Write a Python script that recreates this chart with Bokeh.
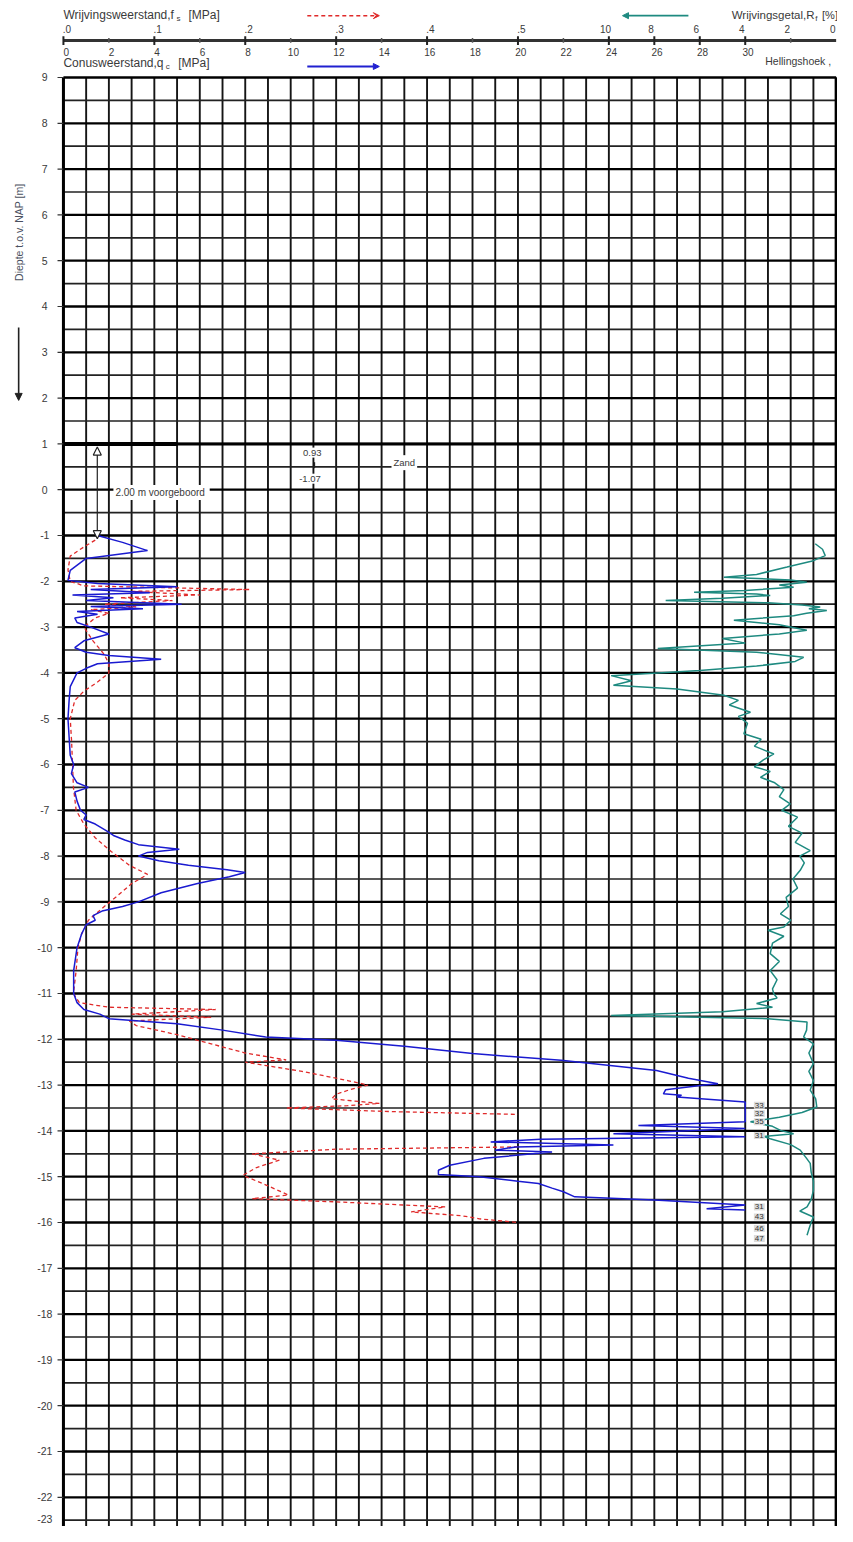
import numpy as np
from bokeh.plotting import figure
from bokeh.models import Range1d, Arrow, NormalHead, VeeHead
from bokeh.core.properties import value
from bokeh.embed import file_html
from bokeh.resources import INLINE

# ---------------- data ----------------
qc_depth = [-1.0, -1.15, -1.33, -1.5, -1.76, -1.98, -2.05, -2.12, -2.18, -2.25, -2.3, -2.36, -2.42,
            -2.5, -2.55, -2.6, -2.66, -2.72, -2.8, -2.9, -3.0, -3.15, -3.3, -3.45, -3.55, -3.62,
            -3.7, -3.8, -3.9, -4.0, -4.3, -4.6, -5.0, -5.4, -5.8, -6.0, -6.2, -6.4, -6.5, -6.6,
            -6.8, -7.0, -7.1, -7.2, -7.3, -7.45, -7.55, -7.65, -7.75, -7.85, -7.92, -8.0, -8.1,
            -8.2, -8.3, -8.36, -8.45, -8.6, -8.8, -9.0, -9.1, -9.2, -9.3, -9.4, -9.5, -9.7,
            -10.0, -10.5, -11.0, -11.2, -11.35, -11.45, -11.55, -11.66, -11.8, -11.95, -12.02,
            -12.15, -12.31, -12.46, -12.68, -12.85, -12.97, -13.0, -13.1, -13.19, -13.22, -13.26,
            -13.37, -13.6, -13.8, -13.88, -13.95, -14.06, -14.13, -14.18, -14.24, -14.31, -14.35,
            -14.42, -14.46, -14.6, -14.75, -14.86, -14.95, -15.0, -15.1, -15.15, -15.25, -15.33,
            -15.44, -15.51, -15.62, -15.7, -15.73]
qc_value = [1.5, 2.6, 3.7, 1.0, 0.3, 0.2, 1.5, 5.0, 1.2, 3.8, 0.4, 2.2, 1.0,
            5.2, 1.2, 3.5, 0.6, 1.5, 0.5, 0.6, 1.2, 2.0, 0.9, 0.5, 1.0, 2.0,
            4.3, 1.5, 1.0, 0.6, 0.3, 0.25, 0.2, 0.25, 0.3, 0.45, 0.35, 0.6, 1.1, 0.5,
            0.6, 0.75, 1.0, 0.9, 1.4, 1.9, 2.2, 2.7, 3.3, 5.1, 3.7, 3.3, 4.2,
            5.5, 7.2, 8.0, 7.3, 5.9, 4.3, 3.3, 2.6, 1.7, 1.3, 1.4, 1.0, 0.8,
            0.6, 0.45, 0.45, 0.6, 0.9, 1.6, 2.0, 5.0, 7.0, 8.9, 12.0,
            15.0, 18.0, 21.9, 26.1, 27.5, 28.8, 28.2, 26.5, 26.4, 27.2, 27.0,
            33.0, 32.0, 35.0, 25.3, 31.0, 24.2, 31.0, 21.0, 18.8, 24.2, 19.9,
            19.0, 21.5, 18.5, 17.0, 16.5, 16.5, 18.3, 20.0, 20.9, 21.5, 22.0,
            22.5, 26.0, 31.0, 28.3, 43.0]

fs_depth = [-1.1, -1.25, -1.45, -1.75, -2.0, -2.1, -2.18, -2.22, -2.3, -2.36, -2.42, -2.5, -2.56,
            -2.62, -2.7, -2.8, -3.0, -3.3, -3.6, -3.8, -4.0, -4.2, -4.4, -4.6, -5.0, -5.5, -6.0,
            -6.5, -7.0, -7.3, -7.6, -7.9, -8.2, -8.4, -8.6, -8.9, -9.1, -9.4, -9.7, -10.0, -10.5,
            -11.0, -11.2, -11.3, -11.35, -11.45, -11.52, -11.6, -11.7, -11.9, -12.1, -12.3,
            -12.45, -12.5, -12.7, -12.9, -13.0, -13.1, -13.2, -13.3, -13.4, -13.45, -13.5,
            -13.58, -13.64, float("nan"), -14.35, -14.4, -14.5, -14.64, -14.8, -14.97, -15.2,
            -15.4, -15.48, -15.55, -15.66, -15.77, -15.85, -15.92, -16.0]
fs_value = [0.035, 0.0225, 0.0075, 0.005, 0.0075, 0.0225, 0.205, 0.075, 0.15, 0.0625, 0.12, 0.045, 0.08,
            0.03, 0.05, 0.035, 0.0225, 0.0325, 0.045, 0.05, 0.05, 0.0375, 0.0225, 0.0125, 0.0075, 0.009, 0.01,
            0.011, 0.014, 0.0225, 0.035, 0.0525, 0.0725, 0.0925, 0.075, 0.0575, 0.045, 0.0275, 0.02, 0.016, 0.014,
            0.011, 0.0175, 0.05, 0.1675, 0.075, 0.1625, 0.0725, 0.08, 0.125, 0.1625, 0.2,
            0.245, 0.2, 0.2625, 0.3125, 0.335, 0.315, 0.3, 0.295, 0.3475, 0.3125, 0.245,
            0.3625, 0.5, float("nan"), 0.5, 0.3, 0.2075, 0.2375, 0.2125, 0.1975, 0.225,
            0.2475, 0.2075, 0.3, 0.42, 0.3825, 0.4375, 0.4575, 0.5]

rf_depth = [-1.18, -1.3, -1.44, -1.55, -1.69, -1.85, -1.91, -1.97, -2.02, -2.08, -2.13, -2.2, -2.24,
            -2.28, -2.31, -2.37, -2.42, -2.47, -2.52, -2.56, -2.6, -2.64, -2.7, -2.75, -2.85, -2.95,
            -3.07, -3.15, -3.25, -3.35, -3.47, -3.55, -3.66, -3.75, -3.85, -3.95, -4.06, -4.17,
            -4.27, -4.35, -4.49, -4.6, -4.7, -4.86, -4.95, -5.1, -5.33, -5.45, -5.6, -5.77, -5.9,
            -6.05, -6.15, -6.28, -6.4, -6.55, -6.7, -6.86, -7.0, -7.15, -7.35, -7.5, -7.7, -7.88,
            -8.0, -8.15, -8.31, -8.5, -8.7, -8.9, -9.1, -9.26, -9.4, -9.55, -9.62, -9.75, -9.9,
            -10.13, -10.3, -10.5, -10.7, -10.9, -11.0, -11.1, -11.22, -11.3, -11.4, -11.48, -11.55,
            -11.62, -11.8, -11.95, -12.1, -12.3, -12.53, -12.7, -12.9, -13.11, -13.3, -13.48,
            -13.6, -13.7, -13.8, -13.9, -13.99, -14.06, -14.12, -14.17, -14.3, -14.42, -14.6,
            -14.71, -14.9, -15.1, -15.3, -15.5, -15.66, -15.75, -15.88, -16.0, -16.15, -16.28]
rf_value = [0.92, 0.6, 0.48, 1.0, 2.16, 3.5, 4.94, 2.0, 1.29, 2.5, 1.87, 4.0, 6.25,
            3.5, 2.9, 5.0, 7.5, 3.0, 1.5, 0.7, 1.2, 0.41, 1.3, 1.87, 4.5, 2.5,
            1.29, 2.5, 5.0, 4.0, 7.85, 3.5, 1.43, 1.8, 3.5, 6.0, 9.9, 9.0,
            9.8, 7.0, 4.94, 4.3, 4.7, 3.77, 4.3, 3.9, 4.06, 3.3, 3.6, 2.74, 3.2,
            3.6, 2.9, 3.33, 2.7, 2.3, 2.5, 2.02, 2.4, 1.7, 2.1, 1.5, 1.8, 1.14,
            1.6, 1.4, 1.58, 1.9, 1.7, 2.2, 2.1, 2.45, 2.0, 2.3, 3.0, 2.3, 2.8,
            2.9, 2.5, 2.9, 2.6, 2.8, 2.75, 2.6, 3.5, 2.8, 5.0, 9.9, 3.0,
            1.28, 1.3, 1.43, 1.0, 1.2, 1.0, 1.2, 1.0, 1.14, 0.9, 0.85,
            1.5, 2.5, 3.77, 2.8, 2.45, 1.87, 3.2, 2.9, 2.0, 1.58, 1.3,
            1.14, 1.1, 1.0, 1.0, 1.1, 1.28, 1.6, 1.0, 1.1, 1.2, 1.28]

over_depth = [-13.44, -13.62, -13.8, -14.1, -15.66, -15.88, -16.13, -16.35]
over_label = ["33", "32", "35", "31", "31", "43", "46", "47"]

depth_ticks = list(range(9, -24, -1))
qc_ticks = list(range(0, 31, 2))
fs_ticks = [0.0, 0.1, 0.2, 0.3, 0.4, 0.5]
fs_tick_labels = [".0", ".1", ".2", ".3", ".4", ".5"]
rf_ticks = [10, 8, 6, 4, 2, 0]

# ---------------- scales of the sheet ----------------
QC_CAP = 30.0      # qc plotted up to 30 MPa
FS_FACTOR = 40.0   # 0.1 MPa fs == 4 MPa qc
RF_ZERO = 34.0     # Rf axis runs right to left, 0 at the right edge
X_MAX = 34.0

W, H = 837, 1526
Y_END = 10.681
Y_START = Y_END - H / 45.8

TEXT = "#3a3a3a"
FONT = value("Liberation Sans")

p = figure(width=W, height=H, x_range=Range1d(-2.769, 34.06), y_range=Range1d(Y_START, Y_END),
           output_backend="svg", toolbar_location=None, x_axis_location=None, y_axis_location=None,
           min_border=0, outline_line_color=None)
p.grid.visible = False

# ---------------- grid ----------------
vx = np.arange(0, X_MAX + 0.5, 1.0)
p.segment(x0=vx, y0=9.0, x1=vx, y1=-23.0, line_color="#151515", line_width=1.9)
hy_half = np.arange(8.5, -23.0, -1.0)
p.segment(x0=0, y0=hy_half, x1=X_MAX, y1=hy_half, line_color="#222222", line_width=1.7)
hy_int = np.array(depth_ticks, dtype=float)
p.segment(x0=0, y0=hy_int, x1=X_MAX, y1=hy_int, line_color="#000000", line_width=2.3)
p.segment(x0=[0, X_MAX], y0=9.0, x1=[0, X_MAX], y1=-23.0, line_color="#000000", line_width=3)
p.segment(x0=0, y0=1.0, x1=X_MAX, y1=1.0, line_color="#000000", line_width=3)
p.segment(x0=0, y0=1.0, x1=5.0, y1=1.0, line_color="#000000", line_width=4)

# left depth axis
p.segment(x0=-0.26, y0=hy_int, x1=0, y1=hy_int, line_color="#333333", line_width=1.2)
vis = [d for d in depth_ticks if d >= Y_START + 0.15]
p.text(x=-0.82, y=vis, text=[str(d) for d in vis], text_font=FONT, text_font_size="10.5px",
       text_color=TEXT, text_align="center", text_baseline="middle")
last = [d for d in depth_ticks if d < Y_START + 0.15]
p.text(x=-0.82, y=Y_START + 0.07, text=[str(d) for d in last], text_font=FONT, text_font_size="10.5px",
       text_color=TEXT, text_align="center", text_baseline="bottom")
p.text(x=[-1.97], y=[5.62], text=["Diepte t.o.v. NAP [m]"], angle=np.pi / 2, text_font=FONT,
       text_font_size="10.5px", text_color="#4a5060", text_align="center", text_baseline="middle")
p.add_layout(Arrow(x_start=-1.97, y_start=3.54, x_end=-1.97, y_end=1.95, line_color="#222222",
                   line_width=1.6, end=NormalHead(size=7, fill_color="#222222", line_color="#222222")))

# ---------------- header axis ----------------
AX_Y = 9.81
p.segment(x0=0, y0=AX_Y, x1=X_MAX, y1=AX_Y, line_color="#333333", line_width=3)
big = [0, 4, 8, 12, 16, 20, 24, 26, 28, 30]
small = [2, 6, 10, 14, 18, 22, 32]
p.segment(x0=big, y0=AX_Y + 0.09, x1=big, y1=AX_Y - 0.1, line_color="#222222", line_width=2)
p.segment(x0=small, y0=AX_Y + 0.05, x1=small, y1=AX_Y - 0.05, line_color="#555555", line_width=1.5)

p.text(x=[f * FS_FACTOR + 0.15 for f in fs_ticks], y=10.05, text=fs_tick_labels, text_font=FONT,
       text_font_size="10px", text_color=TEXT, text_align="center", text_baseline="middle")
p.text(x=[q + 0.12 for q in qc_ticks], y=9.55, text=[str(q) for q in qc_ticks], text_font=FONT,
       text_font_size="10px", text_color=TEXT, text_align="center", text_baseline="middle")
p.text(x=[RF_ZERO - r - 0.15 for r in rf_ticks], y=10.05, text=[str(r) for r in rf_ticks], text_font=FONT,
       text_font_size="10px", text_color=TEXT, text_align="center", text_baseline="middle")

# titles
p.text(x=[0.0], y=[10.36], text=["Wrijvingsweerstand,f"], text_font=FONT, text_font_size="12px",
       text_color=TEXT, text_align="left", text_baseline="middle")
p.text(x=[4.98], y=[10.29], text=["s"], text_font=FONT, text_font_size="8px",
       text_color=TEXT, text_align="left", text_baseline="middle")
p.text(x=[5.5], y=[10.36], text=["[MPa]"], text_font=FONT, text_font_size="12px",
       text_color=TEXT, text_align="left", text_baseline="middle")

p.text(x=[0.0], y=[9.31], text=["Conusweerstand,q"], text_font=FONT, text_font_size="12px",
       text_color=TEXT, text_align="left", text_baseline="middle")
p.text(x=[4.5], y=[9.24], text=["c"], text_font=FONT, text_font_size="8px",
       text_color=TEXT, text_align="left", text_baseline="middle")
p.text(x=[5.05], y=[9.31], text=["[MPa]"], text_font=FONT, text_font_size="12px",
       text_color=TEXT, text_align="left", text_baseline="middle")

p.text(x=[33.05], y=[10.36], text=["Wrijvingsgetal,R"], text_font=FONT, text_font_size="11.5px",
       text_color=TEXT, text_align="right", text_baseline="middle")
p.text(x=[33.08], y=[10.29], text=["f"], text_font=FONT, text_font_size="8px",
       text_color=TEXT, text_align="left", text_baseline="middle")
p.text(x=[33.38], y=[10.36], text=["[%]"], text_font=FONT, text_font_size="11px",
       text_color=TEXT, text_align="left", text_baseline="middle")

p.text(x=[30.88], y=[9.37], text=["Hellingshoek ,"], text_font=FONT, text_font_size="10.5px",
       text_color=TEXT, text_align="left", text_baseline="middle")

# legend arrows
p.add_layout(Arrow(x_start=10.73, y_start=10.35, x_end=13.9, y_end=10.35, line_color="#e02a2a",
                   line_width=1.5, line_dash="4 3",
                   end=VeeHead(size=6, line_color="#e02a2a", fill_color="#e02a2a")))
p.add_layout(Arrow(x_start=10.73, y_start=9.24, x_end=13.9, y_end=9.24, line_color="#2020d0",
                   line_width=1.8, end=NormalHead(size=6, line_color="#2020d0", fill_color="#2020d0")))
p.add_layout(Arrow(x_start=27.5, y_start=10.35, x_end=24.6, y_end=10.35, line_color="#1e8a80",
                   line_width=1.8, end=NormalHead(size=6, line_color="#1e8a80", fill_color="#1e8a80")))

# ---------------- annotations ----------------
p.add_layout(Arrow(x_start=1.49, y_start=0.93, x_end=1.49, y_end=-1.07, line_color="#222222",
                   line_width=1.2,
                   start=NormalHead(size=8, fill_color="white", line_color="#222222", line_width=1.2),
                   end=NormalHead(size=8, fill_color="white", line_color="#222222", line_width=1.2)))
p.text(x=[2.2], y=[-0.06], text=["2.00  m voorgeboord"], text_font=FONT, text_font_size="10px",
       text_color=TEXT, text_align="left", text_baseline="middle",
       background_fill_color="white", padding=2)
p.text(x=[10.95], y=[0.81], text=["0.93"], text_font=FONT, text_font_size="9.5px",
       text_color=TEXT, text_align="center", text_baseline="middle",
       background_fill_color="white", padding=2)
p.text(x=[10.85], y=[0.24], text=["-1.07"], text_font=FONT, text_font_size="9.5px",
       text_color=TEXT, text_align="center", text_baseline="middle",
       background_fill_color="white", padding=2)
p.segment(x0=[11.05], y0=[0.6], x1=[11.05], y1=[0.47], line_color="#222222", line_width=1.2)
p.text(x=[15.0], y=[0.59], text=["Zand"], text_font=FONT, text_font_size="9.5px",
       text_color=TEXT, text_align="center", text_baseline="middle",
       background_fill_color="white", padding=2)

# ---------------- curves ----------------
qc_plot = np.minimum(np.array(qc_value), QC_CAP)
p.line(x=np.array(fs_value) * FS_FACTOR, y=fs_depth, line_color="#e02a2a", line_width=1.3,
       line_dash="4 3")
p.line(x=qc_plot, y=qc_depth, line_color="#1a1ad0", line_width=1.5)
p.line(x=RF_ZERO - np.array(rf_value), y=rf_depth, line_color="#1e8a80", line_width=1.5)

p.text(x=QC_CAP + 0.62, y=over_depth, text=over_label, text_font=FONT, text_font_size="8px",
       text_color="#333333", text_align="center", text_baseline="middle",
       background_fill_color="#dcdcdc", padding=1)

open("out.html", "w").write(file_html(p, INLINE))
